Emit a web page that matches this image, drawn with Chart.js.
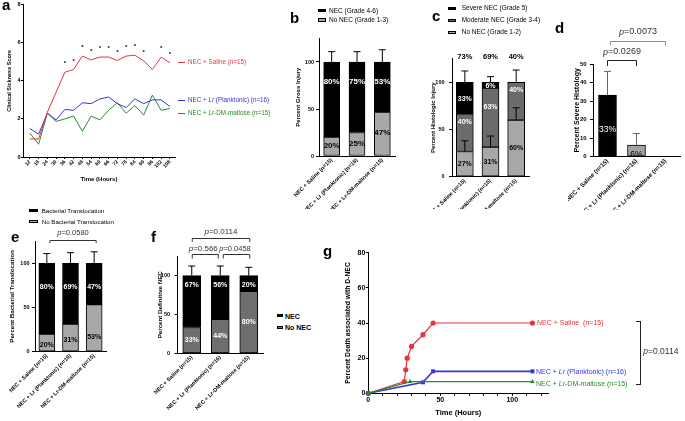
<!DOCTYPE html>
<html>
<head>
<meta charset="utf-8">
<title>Lr NEC figure</title>
<script src="https://cdn.jsdelivr.net/npm/chart.js@4.4.1/dist/chart.umd.min.js"></script>
<style>
  body { margin: 0; background: #fff; }
  #fig { position: relative; width: 685px; height: 421px; overflow: hidden; font-family: "Liberation Sans", Arial, sans-serif; color: #000; }
  #fig canvas { position: absolute; }
  .t { position: absolute; white-space: nowrap; line-height: 1; transform: translateY(-50%); }
  .letter { position: absolute; font-weight: bold; font-size: 15px; line-height: 15px; }
  .sw { position: absolute; box-sizing: border-box; border: 0.7px solid #000; }
</style>
</head>
<body>
<div id="fig">
  <canvas id="cA" width="180" height="186" style="left:0;top:0"></canvas>
  <canvas id="cB" width="110" height="179" style="left:290px;top:30px"></canvas>
  <canvas id="cC" width="107" height="169" style="left:428px;top:40px"></canvas>
  <canvas id="cD" width="117" height="185" style="left:568px;top:25px"></canvas>
  <canvas id="cE" width="112" height="196" style="left:0;top:225px"></canvas>
  <canvas id="cF" width="118" height="196" style="left:150px;top:225px"></canvas>
  <canvas id="cG" width="345" height="181" style="left:340px;top:240px"></canvas>
</div>
<script>
/* ---- data ---- */
const groups = ['NEC + Saline (n=15)', 'NEC + Lr (Planktonic) (n=16)', 'NEC + Lr-DM-maltose (n=15)'];

// a - clinical sickness score
const hours = [12, 18, 24, 30, 36, 42, 48, 54, 60, 66, 72, 78, 84, 90, 96, 102, 108];
const sickSaline  = [0.95, 0.95, 2.35, 3.4, 4.45, 4.6, 5.3, 5.1, 5.25, 5.25, 5.07, 5.3, 5.35, 5.05, 4.6, 5.25, 4.95];
const sickPlank   = [1.5, 1.2, 2.3, 1.95, 2.5, 2.45, 2.85, 2.8, 3.05, 3.15, 2.8, 2.6, 3.05, 2.8, 3.0, 3.0, 2.65];
const sickMaltose = [1.25, 0.67, 2.3, 1.87, 2.0, 2.15, 1.35, 2.15, 1.95, 2.45, 2.85, 2.3, 2.7, 2.2, 3.25, 2.45, 2.55];
const sigHours = [36, 42, 48, 54, 60, 66, 72, 78, 84, 90, 102, 108];

// b - gross injury
const grossNec   = [80, 75, 53.3];
const grossNoNec = [20, 25, 46.7];
const grossErr   = [111, 111, 113];

// c - histologic injury
const histoNone     = [26.7, 31.25, 60];
const histoModerate = [40, 62.5, 40];
const histoSevere   = [33.3, 6.25, 0];
const histoErr      = [112, 106, 113];
const histoNoneErr  = [38, 43, 73];

// d - severe histology
const severePct = [33.3, 6.25, 0];
const severeErr = [46, 12.5, null];

// e - bacterial translocation
const transYes = [80, 68.75, 46.7];
const transNo  = [20, 31.25, 53.3];
const transErr = [111, 112, 113];

// f - definitive NEC
const defNec   = [66.7, 56.25, 20];
const defNoNec = [33.3, 43.75, 80];
const defErr   = [112.5, 112.5, 110.8];

// g - death associated with D-NEC
const deathSalineT = [0, 25, 26, 27, 30, 38, 45, 114];
const deathSaline  = [0, 6.67, 13.33, 20, 26.67, 33.33, 40, 40];
const deathPlankT  = [0, 38, 45, 114];
const deathPlank   = [0, 6.25, 12.5, 12.5];
const deathMaltT   = [0, 29, 114];
const deathMalt    = [0, 6.67, 6.67];
const deathTicks   = [0, 10, 20, 30, 40, 50, 60, 70, 80, 90, 100, 110, 120];
const deathLabeled = [0, 50, 100];

/* ---- look ---- */
const FONT = '"Liberation Sans", Arial, sans-serif';
const RED = '#e5343c', BLUE = '#3434e0', GREEN = '#2a8c2a';
const BLACK = '#000', GRAY = '#a8a8a8', DARK = '#6b6b6b';

Chart.defaults.font.family = FONT;
Chart.defaults.color = '#000';
Chart.defaults.animation = false;
Chart.defaults.responsive = false;
Chart.defaults.plugins.legend.display = false;
Chart.defaults.plugins.tooltip.enabled = false;

const pct = v => Math.round(v) + '%';
const sum = (...arrs) => arrs[0].map((_, i) => arrs.reduce((s, a) => s + a[i], 0));

function yAx(o) {
  return {
    min: o.min, max: o.max, stacked: !!o.stacked,
    afterBuildTicks: s => { if (o.top != null) s.ticks = s.ticks.filter(t => t.value <= o.top); },
    ticks: { stepSize: o.step, font: { size: o.tick || 5.5, weight: 'bold' }, padding: o.pad, color: '#000' },
    grid: { display: true, drawOnChartArea: false, drawTicks: true, tickLength: o.tl || 3, color: '#000' },
    border: { display: true, color: '#000', width: 1 },
    title: { display: true, text: o.title, font: { size: o.tsize || 6, weight: 'bold' }, padding: { top: o.tpad, bottom: 0 } },
    afterFit: s => { s.width = o.w; s.paddingTop = 0; s.paddingBottom = 0; }
  };
}
function xCat(h, size) {
  return {
    stacked: true,
    ticks: { autoSkip: false, minRotation: 45, maxRotation: 45, font: { size: size || 5.5, weight: 'bold' }, padding: 1 },
    grid: { display: false, drawTicks: false },
    border: { display: true, color: '#000', width: 1 },
    afterFit: s => { s.height = h; s.paddingLeft = 0; s.paddingRight = 0; }
  };
}
function seg(data, color, thick) {
  return { data, backgroundColor: color, borderColor: '#000', borderWidth: 1, borderSkipped: false, barThickness: thick };
}

function pText(ctx, text, cx, cy, size, color) {
  const rest = text.slice(1);
  ctx.font = `italic ${size}px ${FONT}`;
  const w1 = ctx.measureText('p').width;
  ctx.font = `${size}px ${FONT}`;
  const w2 = ctx.measureText(rest).width;
  const x = cx - (w1 + w2) / 2;
  ctx.textAlign = 'left'; ctx.textBaseline = 'middle'; ctx.fillStyle = color || '#333';
  ctx.font = `italic ${size}px ${FONT}`;
  ctx.fillText('p', x, cy);
  ctx.font = `${size}px ${FONT}`;
  ctx.fillText(rest, x + w1, cy);
}

// error bars, in-bar labels and p-value brackets
const notes = {
  id: 'notes',
  afterDatasetsDraw(chart, args, o) {
    const { ctx, scales: { x, y } } = chart;
    ctx.save();
    for (const e of o.errors || []) {
      ctx.strokeStyle = e.color || '#000';
      ctx.lineWidth = 1;
      e.to.forEach((t, i) => {
        if (t == null) return;
        const cx = x.getPixelForValue(i), y0 = y.getPixelForValue(e.from[i]), y1 = y.getPixelForValue(t);
        ctx.beginPath();
        ctx.moveTo(cx, y0); ctx.lineTo(cx, y1);
        ctx.moveTo(cx - e.cap, y1); ctx.lineTo(cx + e.cap, y1);
        ctx.stroke();
      });
    }
    ctx.textAlign = 'center'; ctx.textBaseline = 'middle';
    for (const l of o.labels || []) {
      ctx.fillStyle = l.color;
      ctx.font = l.font;
      ctx.fillText(l.text, x.getPixelForValue(l.i), y.getPixelForValue(l.v));
    }
    for (const b of o.brackets || []) {
      const x0 = x.getPixelForValue(b.i0) + (b.dx0 || 0), x1 = x.getPixelForValue(b.i1) + (b.dx1 || 0);
      const yy = Math.round(y.getPixelForValue(b.v)) + 0.5;
      ctx.strokeStyle = b.color || '#000'; ctx.lineWidth = 1;
      ctx.beginPath();
      ctx.moveTo(x0, yy + b.drop); ctx.lineTo(x0, yy); ctx.lineTo(x1, yy); ctx.lineTo(x1, yy + b.drop);
      ctx.stroke();
      pText(ctx, b.text, (x0 + x1) / 2 + (b.tx || 0), yy - b.ty, b.size);
    }
    ctx.restore();
  }
};

const stars = {
  id: 'stars',
  afterDatasetsDraw(chart, args, o) {
    const { ctx, scales: { x, y } } = chart;
    ctx.save();
    ctx.font = `bold 6px ${FONT}`; ctx.textAlign = 'center'; ctx.textBaseline = 'middle'; ctx.fillStyle = '#000';
    sigHours.forEach(h => {
      const i = hours.indexOf(h);
      ctx.fillText('*', x.getPixelForValue(h), y.getPixelForValue(sickSaline[i]) - o.lift);
    });
    ctx.restore();
  }
};

// the x label sitting on the axis corner gets dropped by the axis, so draw it here
const cornerLabel = {
  id: 'cornerLabel',
  afterDraw(chart, args, o) {
    const { ctx, scales: { x } } = chart;
    ctx.save();
    ctx.font = `bold 7px ${FONT}`; ctx.textAlign = 'center'; ctx.textBaseline = 'top'; ctx.fillStyle = '#000';
    ctx.fillText(String(o.value), x.getPixelForValue(o.value), x.top + o.gap);
    ctx.restore();
  }
};

/* ---- a ---- */
const xyA = arr => hours.map((h, i) => ({ x: h, y: arr[i] }));
const lineA = (arr, c) => ({ data: xyA(arr), borderColor: c, backgroundColor: c, borderWidth: 1, pointRadius: 0, tension: 0 });
new Chart(document.getElementById('cA'), {
  type: 'line',
  data: { datasets: [lineA(sickSaline, RED), lineA(sickPlank, BLUE), lineA(sickMaltose, GREEN)] },
  options: {
    layout: { padding: { left: 0, top: 4.7, right: 5, bottom: 0 } },
    scales: {
      x: {
        type: 'linear', min: 7.3, max: 111.5,
        afterBuildTicks: s => { s.ticks = hours.map(v => ({ value: v })); },
        ticks: { autoSkip: false, minRotation: 45, maxRotation: 45, font: { size: 5, weight: 'bold' }, padding: 0, callback: v => String(v) },
        grid: { display: true, drawOnChartArea: false, tickLength: 2, color: '#000' },
        border: { display: true, color: '#000', width: 1 },
        title: { display: true, text: 'Time (Hours)', font: { size: 6, weight: 'bold' }, padding: { top: 0, bottom: 3 } },
        afterFit: s => { s.height = 29; s.paddingLeft = 0; s.paddingRight = 0; }
      },
      y: yAx({ min: 0, max: 8, step: 2, w: 23, pad: 0.5, tl: 2, title: 'Clinical Sickness Score', tsize: 5.5, tpad: 6, tick: 5.5 })
    },
    plugins: { stars: { lift: 8.5 } }
  },
  plugins: [stars]
});

/* ---- b ---- */
const fB = `bold 8px ${FONT}`;
new Chart(document.getElementById('cB'), {
  type: 'bar',
  data: { labels: groups, datasets: [seg(grossNoNec, GRAY, 16), seg(grossNec, BLACK, 16)] },
  options: {
    layout: { padding: { left: 0, top: 8.5, right: 5, bottom: 0 } },
    scales: {
      x: xCat(53),
      y: yAx({ min: 0, max: 125, top: 100, step: 50, stacked: true, w: 29, pad: 2, title: 'Percent Gross Injury', tpad: 4.9 })
    },
    plugins: {
      notes: {
        errors: [{ from: sum(grossNoNec, grossNec), to: grossErr, cap: 3.5 }],
        labels: [
          ...grossNoNec.map((v, i) => ({ i, v: v / 2 + 1, text: pct(v), color: '#000', font: fB })),
          ...grossNec.map((v, i) => ({ i, v: 100 - 21, text: pct(v), color: '#fff', font: fB }))
        ]
      }
    }
  },
  plugins: [notes]
});

/* ---- c ---- */
const fC = `bold 7px ${FONT}`;
const histoTop = sum(histoNone, histoModerate, histoSevere);
new Chart(document.getElementById('cC'), {
  type: 'bar',
  data: { labels: groups, datasets: [seg(histoNone, GRAY, 17), seg(histoModerate, DARK, 17), seg(histoSevere, BLACK, 17)] },
  options: {
    layout: { padding: { left: 0, top: 18.7, right: 6, bottom: 0 } },
    scales: {
      x: xCat(32.3),
      y: yAx({ min: 0, max: 125, top: 100, step: 50, stacked: true, w: 24, pad: 4.5, title: 'Percent Histologic Injury', tpad: 1.9 })
    },
    plugins: {
      notes: {
        errors: [
          { from: histoTop, to: histoErr, cap: 3.5 },
          { from: histoNone, to: histoNoneErr, cap: 3.5 }
        ],
        labels: [
          ...histoNone.map((v, i) => ({ i, v: v / 2, text: pct(v), color: '#000', font: fC })),
          ...histoModerate.map((v, i) => ({ i, v: (Math.max(histoNone[i] + 10, histoNoneErr[i]) + histoNone[i] + v) / 2 + 5, text: pct(v), color: '#fff', font: fC })),
          ...histoSevere.map((v, i) => v > 0 ? { i, v: histoNone[i] + histoModerate[i] + v / 2 - 1, text: pct(v), color: '#fff', font: fC } : null).filter(Boolean),
          ...histoNone.map((v, i) => ({ i, v: 126.5, text: pct(100 - v), color: '#000', font: `bold 7.5px ${FONT}` }))
        ]
      }
    }
  },
  plugins: [notes]
});

/* ---- d ---- */
const fD = `8.5px ${FONT}`;
new Chart(document.getElementById('cD'), {
  type: 'bar',
  data: { labels: groups, datasets: [seg(severePct, [BLACK, '#a3a3a3', GRAY], 18)] },
  options: {
    layout: { padding: { left: 0, top: 39, right: 5, bottom: 0 } },
    scales: {
      x: xCat(53.3, 6),
      y: yAx({ min: 0, max: 50, step: 10, w: 25, pad: 3.3, title: 'Percent Severe Histology', tsize: 7, tpad: 4.8, tick: 6 })
    },
    plugins: {
      notes: {
        errors: [{ from: severePct, to: severeErr, cap: 3.5, color: '#666' }],
        labels: severePct.map((v, i) => v > 0 ? { i, v: v / 2 - 2, text: pct(v), color: i === 0 ? '#fff' : '#000', font: fD } : null).filter(Boolean),
        brackets: [
          { i0: 0, i1: 1, v: 52.2, drop: 5.5, dx0: 0, dx1: 0, text: 'p=0.0269', ty: 8.5, size: 9, color: '#222' },
          { i0: 0, i1: 2, v: 62.4, drop: 3.5, dx0: 3, dx1: 0, text: 'p=0.0073', ty: 9.5, size: 9, color: '#8a8a8a' }
        ]
      }
    }
  },
  plugins: [notes]
});

/* ---- e ---- */
const fE = `bold 7px ${FONT}`;
new Chart(document.getElementById('cE'), {
  type: 'bar',
  data: { labels: groups, datasets: [seg(transNo, GRAY, 16), seg(transYes, BLACK, 16)] },
  options: {
    layout: { padding: { left: 0, top: 16.2, right: 6, bottom: 0 } },
    scales: {
      x: xCat(69.3),
      y: yAx({ min: 0, max: 125, top: 100, step: 50, stacked: true, w: 35, pad: 2.5, title: 'Percent Bacterial Translocation', tsize: 6.2, tpad: 8.3 })
    },
    plugins: {
      notes: {
        errors: [{ from: sum(transNo, transYes), to: transErr, cap: 3.5 }],
        labels: [
          ...transNo.map((v, i) => ({ i, v: Math.min(v / 2 - 2, 16.6), text: pct(v), color: '#000', font: fE })),
          ...transYes.map((v, i) => ({ i, v: 100 - 26.5, text: pct(v), color: '#fff', font: fE }))
        ],
        brackets: [{ i0: 0, i1: 2, v: 126.4, drop: 2.5, dx0: 3, dx1: 2, text: 'p=0.0580', ty: 8, size: 7.5, color: '#333' }]
      }
    }
  },
  plugins: [notes]
});

/* ---- f ---- */
const fF = `bold 7px ${FONT}`;
new Chart(document.getElementById('cF'), {
  type: 'bar',
  data: { labels: groups, datasets: [seg(defNoNec, '#6e6e6e', 18), seg(defNec, BLACK, 18)] },
  options: {
    layout: { padding: { left: 0, top: 31.3, right: 5, bottom: 0 } },
    scales: {
      x: xCat(67.7),
      y: yAx({ min: 0, max: 125, top: 100, step: 50, stacked: true, w: 27.5, pad: 4.5, title: 'Percent Definitive NEC', tsize: 6.2, tpad: 6.3 })
    },
    plugins: {
      notes: {
        errors: [{ from: sum(defNoNec, defNec), to: defErr, cap: 3.5 }],
        labels: [
          ...defNoNec.map((v, i) => ({ i, v: Math.min(v / 2, 40.8), text: pct(v), color: '#fff', font: fF })),
          ...defNec.map((v, i) => ({ i, v: 100 - 12, text: pct(v), color: '#fff', font: fF }))
        ],
        brackets: [
          { i0: 0, i1: 1, v: 127.6, drop: 4, dx0: 0.5, dx1: -2, text: 'p=0.566', ty: 5.5, tx: -2, size: 8, color: '#333' },
          { i0: 1, i1: 2, v: 127.6, drop: 4, dx0: 3, dx1: 1, text: 'p=0.0458', ty: 5.5, tx: -1.5, size: 7.5, color: '#333' },
          { i0: 0, i1: 2, v: 148.2, drop: 3.4, dx0: 0.5, dx1: 1, text: 'p=0.0114', ty: 6.5, size: 8, color: '#333' }
        ]
      }
    }
  },
  plugins: [notes]
});

/* ---- g ---- */
const xyG = (ts, vs) => ts.map((t, i) => ({ x: t, y: vs[i] }));
const lineG = (ts, vs, c, style, r, w) => ({
  data: xyG(ts, vs), borderColor: c, backgroundColor: c, borderWidth: w, pointStyle: style,
  pointRadius: r, pointBorderWidth: 0, tension: 0, clip: false
});
new Chart(document.getElementById('cG'), {
  type: 'line',
  data: {
    datasets: [
      lineG(deathMaltT, deathMalt, GREEN, 'triangle', 2.6, 1.2),
      lineG(deathPlankT, deathPlank, BLUE, 'rect', 2.8, 1.6),
      lineG(deathSalineT, deathSaline, RED, 'circle', 2.6, 1.2)
    ]
  },
  options: {
    layout: { padding: { left: 0, top: 12.7, right: 136.7, bottom: 0 } },
    scales: {
      x: {
        type: 'linear', min: 0, max: 125,
        afterBuildTicks: s => { s.ticks = deathTicks.map(v => ({ value: v })); },
        ticks: { autoSkip: false, maxRotation: 0, font: { size: 7, weight: 'bold' }, padding: 0.5, callback: v => (v > 0 && deathLabeled.includes(v) ? String(v) : '') },
        grid: { display: true, drawOnChartArea: false, tickLength: 2.5, color: '#000' },
        border: { display: true, color: '#000', width: 1 },
        title: { display: true, text: 'Time (Hours)', font: { size: 7.5, weight: 'bold' }, padding: { top: 0, bottom: 3.2 } },
        afterFit: s => { s.height = 27.7; s.paddingLeft = 0; s.paddingRight = 0; }
      },
      y: yAx({ min: 0, max: 80, step: 20, w: 28.3, pad: 0.5, tl: 2.5, title: 'Percent Death associated with D-NEC', tsize: 6.8, tpad: 3.9, tick: 7 })
    },
    plugins: { cornerLabel: { value: deathLabeled[0], gap: 3.5 } }
  },
  plugins: [cornerLabel]
});

/* ---- html annotations: panel letters, legends, series labels ---- */
const fig = document.getElementById('fig');
function el(cls, x, y, html, css) {
  const d = document.createElement('div');
  d.className = cls;
  d.style.left = x + 'px';
  d.style.top = y + 'px';
  d.innerHTML = html || '';
  Object.assign(d.style, css || {});
  fig.appendChild(d);
  return d;
}
const txt = (x, y, html, css) => el('t', x, y, html, css);
const sw = (x, y, w, h, c) => el('sw', x, y - h / 2, '', { width: w + 'px', height: h + 'px', background: c });

[['a', 2, -2.7], ['b', 290, 10], ['c', 432, 8], ['d', 555, 19.6], ['e', 11, 229], ['f', 151, 229.3], ['g', 323, 242.8]]
  .forEach(([t, x, y]) => el('letter', x, y, t));

// a series labels
[[RED, 62, 'NEC + Saline (n=15)'], [BLUE, 100, 'NEC + <i>Lr</i> (Planktonic) (n=16)'], [GREEN, 112.7, 'NEC + <i>Lr</i>-DM-maltose (n=15)']]
  .forEach(([c, y, t]) => {
    el('sw', 178, y, '', { width: '7px', height: '1px', border: 'none', background: c });
    txt(188, y, t, { fontSize: '6.3px', color: c });
  });

// b legend
sw(318, 10.7, 7.5, 3.3, BLACK); txt(329, 10.7, 'NEC (Grade 4-6)', { fontSize: '6.5px' });
sw(318, 20, 7.5, 3.3, GRAY); txt(329, 20, 'No NEC (Grade 1-3)', { fontSize: '6.5px' });

// c legend
sw(448, 8.3, 8.3, 3.3, BLACK); txt(461.7, 8.3, 'Severe NEC (Grade 5)', { fontSize: '6.5px' });
sw(448, 20.3, 8.3, 3.3, DARK); txt(461.7, 20.3, 'Moderate NEC (Grade 3-4)', { fontSize: '6.5px' });
sw(448, 32.3, 8.3, 3.3, GRAY); txt(461.7, 32.3, 'No NEC (Grade 1-2)', { fontSize: '6.5px' });

// e legend
sw(29.3, 210.7, 8.4, 3, BLACK); txt(41.7, 210.7, 'Bacterial Translocation', { fontSize: '6.2px' });
sw(29.3, 221.7, 8.4, 3, GRAY); txt(41.7, 221.7, 'No Bacterial Translocation', { fontSize: '6.2px' });

// f legend
sw(277, 315.5, 5.7, 3, BLACK); txt(285, 315.5, 'NEC', { fontSize: '7px', fontWeight: 'bold' });
sw(277, 327, 5.7, 3, '#6e6e6e'); txt(285, 327, 'No NEC', { fontSize: '7px', fontWeight: 'bold' });

// g series labels + bracket
txt(537, 322.3, 'NEC + Saline&nbsp; (n=15)', { fontSize: '7px', color: RED });
txt(536, 371, 'NEC + <i>Lr</i> (Planktonic) (n=16)', { fontSize: '7px', color: BLUE });
txt(536, 382.7, 'NEC + <i>Lr</i>-DM-maltose (n=15)', { fontSize: '7px', color: GREEN });
el('sw', 636, 321, '', { width: '5px', height: '63.5px', border: '1px solid #222', borderLeft: 'none', background: 'transparent' });
txt(643.3, 350.7, '<i>p</i>=0.0114', { fontSize: '8.5px', color: '#333' });
</script>
</body>
</html>
